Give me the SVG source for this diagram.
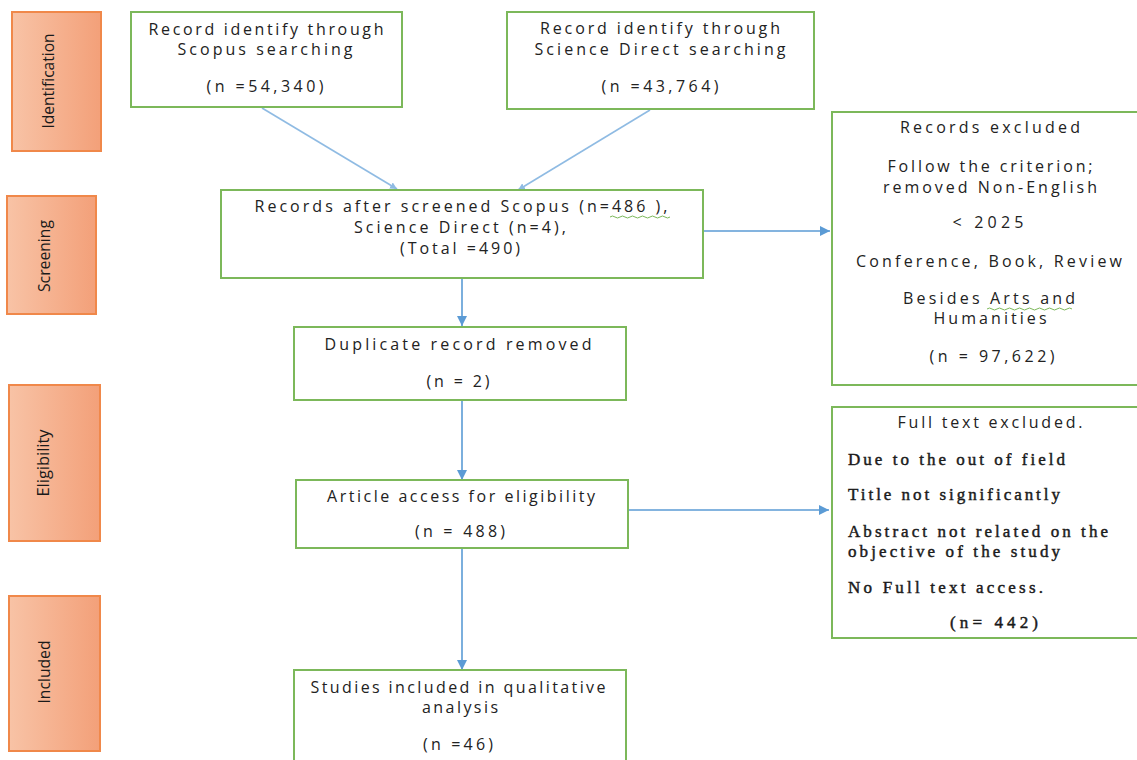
<svg xmlns="http://www.w3.org/2000/svg" width="1137" height="760" viewBox="0 0 1137 760">
<defs>
<linearGradient id="og" x1="0" y1="0" x2="1" y2="0">
<stop offset="0" stop-color="#f8c3a6"/>
<stop offset="1" stop-color="#f3a079"/>
</linearGradient>
<marker id="ah" viewBox="0 0 10 10" refX="10" refY="5" markerWidth="10" markerHeight="10" markerUnits="userSpaceOnUse" orient="auto">
<path d="M0,0 L10,5 L0,10 z" fill="#5b9bd5"/>
</marker>
<marker id="ahs" viewBox="0 0 10 10" refX="10" refY="5" markerWidth="7" markerHeight="7" markerUnits="userSpaceOnUse" orient="auto">
<path d="M0,0 L10,5 L0,10 z" fill="#8fbbe3"/>
</marker>
</defs>
<style>
.stage{fill:url(#og);stroke:#f0884a;stroke-width:2}
.box{fill:#fff;stroke:#7cb85a;stroke-width:2}
.t{font-family:"Open Sans","Liberation Sans",sans-serif;font-size:16px;fill:#222;text-anchor:middle}
.s{font-family:"Open Sans","Liberation Sans",sans-serif;font-size:17px;fill:#1a1a1a;text-anchor:middle}
.r{font-family:"Liberation Serif","Times New Roman",serif;font-size:17px;fill:#1a1a1a;stroke:#1a1a1a;stroke-width:0.45}
.c{stroke:#5b9bd5;stroke-width:1.6;fill:none}
.d{stroke:#8fbbe3;stroke-width:1.6;fill:none}
.w{stroke:#7cb85a;stroke-width:1;fill:none}
</style>
<rect width="1137" height="760" fill="#fff"/>

<g id="stage-identification">
<rect class="stage" x="12" y="12" width="89" height="139"/>
<text class="s" transform="translate(54,81) rotate(-90)" textLength="95" lengthAdjust="spacingAndGlyphs">Identification</text>
</g>
<g id="stage-screening">
<rect class="stage" x="7" y="196" width="89" height="118"/>
<text class="s" transform="translate(50,256) rotate(-90)" textLength="72" lengthAdjust="spacingAndGlyphs">Screening</text>
</g>
<g id="stage-eligibility">
<rect class="stage" x="9" y="385" width="91" height="156"/>
<text class="s" transform="translate(49,463) rotate(-90)" textLength="67" lengthAdjust="spacingAndGlyphs">Eligibility</text>
</g>
<g id="stage-included">
<rect class="stage" x="9" y="596" width="91" height="155"/>
<text class="s" transform="translate(50,672) rotate(-90)" textLength="63" lengthAdjust="spacingAndGlyphs">Included</text>
</g>

<g id="connectors">
<line class="d" x1="262" y1="108" x2="397" y2="189" marker-end="url(#ahs)"/>
<line class="d" x1="650" y1="110" x2="518" y2="190" marker-end="url(#ahs)"/>
<line class="c" x1="703" y1="231" x2="830" y2="231" marker-end="url(#ah)"/>
<line class="c" x1="462" y1="278" x2="462" y2="326" marker-end="url(#ah)"/>
<line class="c" x1="462" y1="400" x2="462" y2="480" marker-end="url(#ah)"/>
<line class="c" x1="628" y1="510" x2="829" y2="510" marker-end="url(#ah)"/>
<line class="c" x1="462" y1="548" x2="462" y2="670" marker-end="url(#ah)"/>
</g>

<g id="scopus">
<rect class="box" x="131" y="12" width="271" height="95"/>
<text class="t" x="266" y="35" textLength="235" lengthAdjust="spacing">Record identify through</text>
<text class="t" x="265" y="55" textLength="175" lengthAdjust="spacing">Scopus searching</text>
<text class="t" x="265" y="92" textLength="117" lengthAdjust="spacing">(n =54,340)</text>
</g>

<g id="sciencedirect">
<rect class="box" x="507" y="12" width="307" height="97"/>
<text class="t" x="660" y="34" textLength="240" lengthAdjust="spacing">Record identify through</text>
<text class="t" x="660" y="55" textLength="251" lengthAdjust="spacing">Science Direct searching</text>
<text class="t" x="660" y="92" textLength="117" lengthAdjust="spacing">(n =43,764)</text>
</g>

<g id="screened">
<rect class="box" x="221" y="190" width="482" height="88"/>
<text class="t" x="461" y="212" textLength="413" lengthAdjust="spacing">Records after screened Scopus (n=486 ),</text>
<text class="t" x="460" y="233" textLength="212" lengthAdjust="spacing">Science Direct (n=4),</text>
<text class="t" x="460" y="254" textLength="120" lengthAdjust="spacing">(Total =490)</text>
<path class="w" d="M610,217 q2.5,-2 5,0 t5,0 t5,0 t5,0 t5,0 t5,0 t5,0 t5,0 t5,0 t5,0 t5,0 t5,0"/>
</g>

<g id="excluded">
<rect class="box" x="832" y="112" width="310" height="273"/>
<text class="t" x="990" y="133" textLength="180" lengthAdjust="spacing">Records excluded</text>
<text class="t" x="990" y="172" textLength="205" lengthAdjust="spacing">Follow the criterion;</text>
<text class="t" x="990" y="193" textLength="214" lengthAdjust="spacing">removed Non-English</text>
<text class="t" x="988" y="228" textLength="71" lengthAdjust="spacing">&lt; 2025</text>
<text class="t" x="989" y="267" textLength="266" lengthAdjust="spacing">Conference, Book, Review</text>
<text class="t" x="989" y="304" textLength="172" lengthAdjust="spacing">Besides Arts and</text>
<text class="t" x="990" y="324" textLength="113" lengthAdjust="spacing">Humanities</text>
<text class="t" x="992" y="362" textLength="125" lengthAdjust="spacing">(n = 97,622)</text>
<path class="w" d="M987,309 q2.5,-2 5,0 t5,0 t5,0 t5,0 t5,0 t5,0 t5,0 t5,0 t5,0 t5,0 t5,0 t5,0 t5,0 t5,0 t5,0 t5,0 t5,0"/>
</g>

<g id="duplicate">
<rect class="box" x="294" y="327" width="332" height="73"/>
<text class="t" x="458" y="350" textLength="267" lengthAdjust="spacing">Duplicate record removed</text>
<text class="t" x="458" y="387" textLength="63" lengthAdjust="spacing">(n = 2)</text>
</g>

<g id="article">
<rect class="box" x="296" y="480" width="332" height="68"/>
<text class="t" x="461" y="502" textLength="268" lengthAdjust="spacing">Article access for eligibility</text>
<text class="t" x="460" y="537" textLength="90" lengthAdjust="spacing">(n = 488)</text>
</g>

<g id="fulltext">
<rect class="box" x="832" y="407" width="310" height="231"/>
<text class="t" x="990" y="428" textLength="185" lengthAdjust="spacing">Full text excluded.</text>
<text class="r" x="848" y="465" textLength="217" lengthAdjust="spacing">Due to the out of field</text>
<text class="r" x="848" y="500" textLength="212" lengthAdjust="spacing">Title not significantly</text>
<text class="r" x="848" y="537" textLength="260" lengthAdjust="spacing">Abstract not related on the</text>
<text class="r" x="848" y="557" textLength="212" lengthAdjust="spacing">objective of the study</text>
<text class="r" x="848" y="593" textLength="195" lengthAdjust="spacing">No Full text access.</text>
<text class="r" x="950" y="628" textLength="88" lengthAdjust="spacing">(n= 442)</text>
</g>

<g id="included">
<rect class="box" x="294" y="670" width="332" height="100"/>
<text class="t" x="458" y="693" textLength="295" lengthAdjust="spacing">Studies included in qualitative</text>
<text class="t" x="460" y="713" textLength="76" lengthAdjust="spacing">analysis</text>
<text class="t" x="458" y="750" textLength="70" lengthAdjust="spacing">(n =46)</text>
</g>
</svg>
